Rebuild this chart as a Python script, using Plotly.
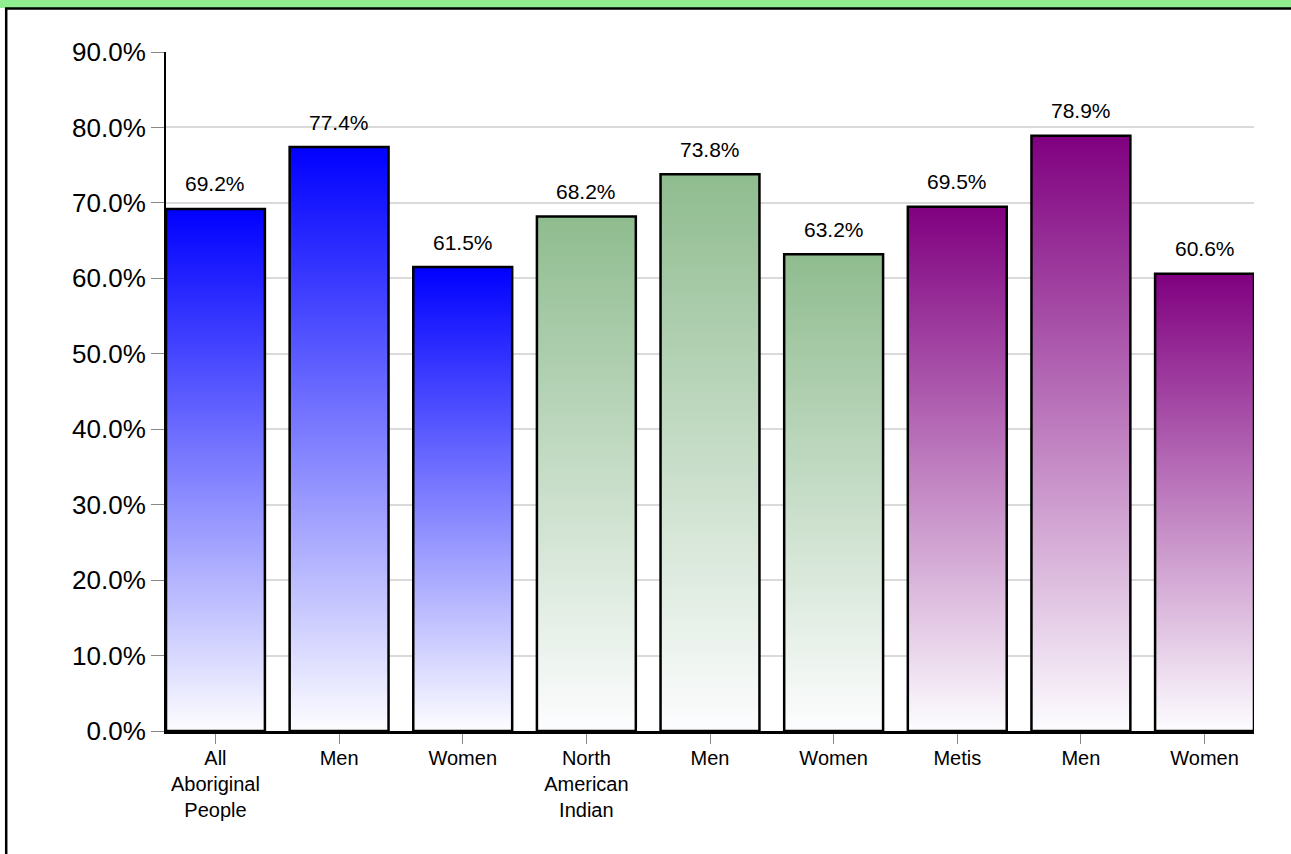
import plotly.graph_objects as go

# ---- data ----
categories = ["All<br>Aboriginal<br>People", "Men", "Women",
              "North<br>American<br>Indian", "Men", "Women",
              "Metis", "Men", "Women"]
values = [69.2, 77.4, 61.5, 68.2, 73.8, 63.2, 69.5, 78.9, 60.6]
groups = ["all", "all", "all", "nai", "nai", "nai", "metis", "metis", "metis"]
group_colors = {"all": "#0000FF", "nai": "#8FBC8F", "metis": "#800080"}
y_ticks = [0, 10, 20, 30, 40, 50, 60, 70, 80, 90]
y_tick_labels = [f"{v:.1f}%" for v in y_ticks]

# ---- layout geometry ----
W, H = 1291, 854
ML, MR, MT, MB = 166, 37, 52, 123
BAR_W = 0.8
FONT = "Arial, Liberation Sans, sans-serif"

fig = go.Figure()

for i, (v, g) in enumerate(zip(values, groups)):
    x0, x1 = i - BAR_W / 2, i + BAR_W / 2
    fig.add_trace(go.Scatter(
        x=[x0, x0, x1, x1, x0],
        y=[0, v, v, 0, 0],
        mode="lines",
        fill="toself",
        fillgradient=dict(type="vertical",
                          colorscale=[[0, "#fdfdff"], [1, group_colors[g]]]),
        line=dict(color="black", width=2.5),
        hoverinfo="skip",
        showlegend=False,
    ))
    fig.add_annotation(x=i, y=v, text=f"{v:.1f}%", showarrow=False,
                       yanchor="middle", yshift=25,
                       font=dict(family=FONT, size=21, color="black"))

fig.update_xaxes(
    range=[-BAR_W / 2, len(values) - 1 + BAR_W / 2],
    tickmode="array",
    tickvals=list(range(len(categories))),
    ticktext=categories,
    ticks="outside", ticklen=10, tickwidth=1, tickcolor="#888888",
    showline=True, linecolor="black", linewidth=3,
    showgrid=False, zeroline=False,
    tickfont=dict(family=FONT, size=20, color="black"),
    ticklabelstandoff=-3,
    fixedrange=True,
)
fig.update_yaxes(
    range=[0, 90],
    tickmode="array",
    tickvals=y_ticks,
    ticktext=y_tick_labels,
    ticks="outside", ticklen=13, tickwidth=1, tickcolor="#888888",
    showline=True, linecolor="black", linewidth=2,
    showgrid=True, gridcolor="#dadada", gridwidth=2,
    zeroline=False,
    tickfont=dict(family=FONT, size=26, color="black"),
    ticklabelstandoff=0,
    fixedrange=True,
)

pw, ph = W - ML - MR, H - MT - MB
def px_x(p):
    return (p - ML) / pw
def px_y(p):
    return (H - MB - p) / ph

shapes = [
    # green header band
    dict(type="rect", xref="paper", yref="paper",
         x0=px_x(-5), x1=px_x(W + 5), y0=px_y(8), y1=px_y(-5),
         fillcolor="#90EE90", line=dict(width=0), layer="above"),
    # black line under header
    dict(type="line", xref="paper", yref="paper",
         x0=px_x(5), x1=px_x(W + 5), y0=px_y(8.5), y1=px_y(8.5),
         line=dict(color="black", width=2.5), layer="above"),
    # left border
    dict(type="line", xref="paper", yref="paper",
         x0=px_x(6.2), x1=px_x(6.2), y0=px_y(8), y1=px_y(H + 5),
         line=dict(color="black", width=2.5), layer="above"),
]

fig.update_layout(
    width=W, height=H,
    margin=dict(l=ML, r=MR, t=MT, b=MB, pad=0),
    paper_bgcolor="white", plot_bgcolor="white",
    showlegend=False,
    shapes=shapes,
    font=dict(family=FONT, color="black"),
)

fig.write_html("out.html",
               config={"displayModeBar": False},
               post_script="document.body.style.margin='0';document.body.style.overflow='hidden';")
